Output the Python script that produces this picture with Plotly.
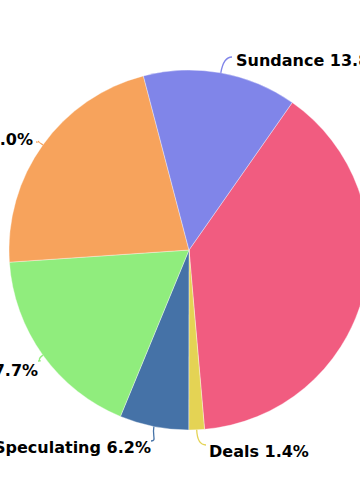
import math
import plotly.graph_objects as go

# ---- data ----
labels = ["Reviews", "Deals", "Speculating", "Festivals", "Box Office", "Sundance"]
values = [38.9, 1.4, 6.2, 17.7, 22.0, 13.8]
colors = ["#f15c80", "#e4d354", "#4572a7", "#90ed7d", "#f7a35c", "#8085e9"]

# ---- layout constants (pixels) ----
W, H = 380, 500
CX, CY, R = 189, 250, 180
ROT = 35
# label text anchor (x, y, xanchor) and connector end point
label_pos = [(392, 300, "left"), (207, 451, "left"), (153, 447, "right"),
             (40, 370, "right"), (35, 139, "right"), (234, 60, "left")]
conn_end = [(388, 298), (206, 445), (151, 441), (38, 361), (36, 142), (232, 57)]

fig = go.Figure()
fig.add_trace(go.Pie(
    labels=labels, values=values, sort=False, direction="clockwise",
    rotation=ROT, textinfo="none", hoverinfo="label+percent",
    marker=dict(colors=colors, line=dict(color="rgba(255,255,255,0.6)", width=0.6)),
    domain=dict(x=[(CX - R) / W, (CX + R) / W], y=[1 - (CY + R) / H, 1 - (CY - R) / H]),
    showlegend=False,
))

total = sum(values)
cum = 0.0
shapes = []
annotations = []
for i, (lab, v) in enumerate(zip(labels, values)):
    mid = math.radians(ROT + (cum + v / 2) / total * 360)
    cum += v
    sx, sy = math.sin(mid), -math.cos(mid)
    ex, ey = CX + R * sx, CY + R * sy
    lx, ly = conn_end[i]
    c1x, c1y = ex + sx * 10, ey + sy * 10
    c2x = lx - (6 if label_pos[i][2] == "left" else -6)
    c2y = ly
    shapes.append(dict(
        type="path", xref="x", yref="y",
        path=f"M {ex:.1f},{ey:.1f} C {c1x:.1f},{c1y:.1f} {c2x:.1f},{c2y:.1f} {lx:.1f},{ly:.1f}",
        line=dict(color=colors[i], width=1.3),
    ))
    tx, ty, xa = label_pos[i]
    annotations.append(dict(
        xref="paper", yref="paper", x=tx / W, y=1 - ty / H,
        xanchor=xa, yanchor="middle", showarrow=False,
        text=f"<b>{lab} {v / total * 100:.1f}%</b>",
        font=dict(family="DejaVu Sans", size=16, color="#000000"),
    ))

fig.update_layout(
    width=W, height=H, margin=dict(l=0, r=0, t=0, b=0),
    paper_bgcolor="white", plot_bgcolor="rgba(0,0,0,0)",
    xaxis=dict(range=[0, W], visible=False, fixedrange=True, domain=[0, 1]),
    yaxis=dict(range=[H, 0], visible=False, fixedrange=True, domain=[0, 1]),
    shapes=shapes, annotations=annotations,
)

fig.write_html(
    "out.html",
    config={"displayModeBar": False},
    post_script="document.body.style.overflow='hidden';document.documentElement.style.overflow='hidden';",
)
